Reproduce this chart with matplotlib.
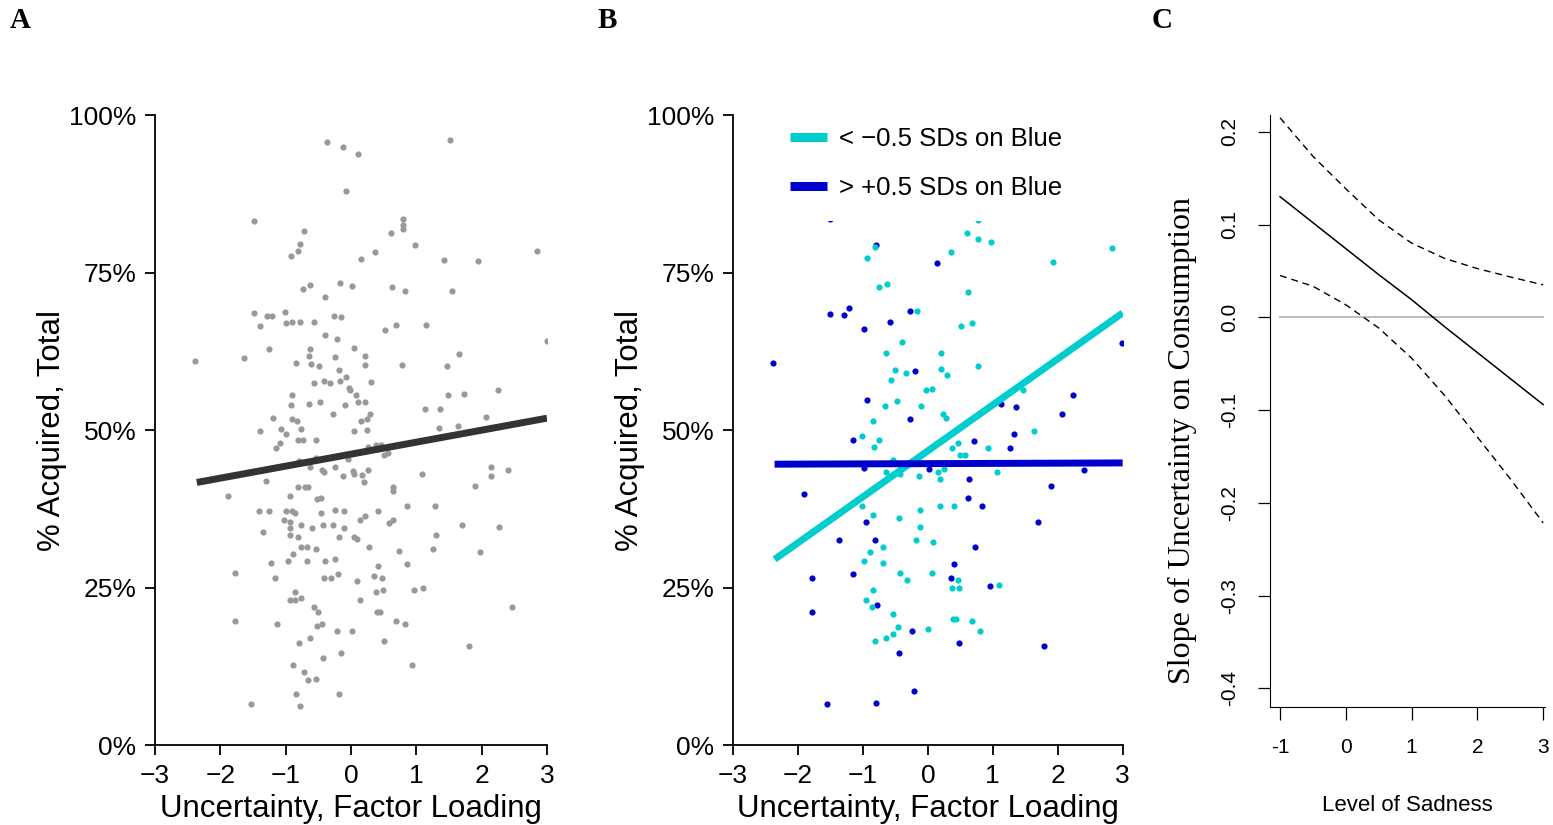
import numpy as np
import matplotlib
matplotlib.use('Agg')
import matplotlib.pyplot as plt

plt.rcParams['font.family'] = ['Liberation Sans', 'DejaVu Sans']

# Panel A: all participants (uncertainty factor loading vs % acquired)
unc_a = [-0.36, -0.12, 0.11, 1.51, -0.07, -1.49, -0.72, -0.78, -0.81, -0.92,
         0.80, 0.80, 0.79, 0.62, 0.98, 0.37, 0.15, 1.42, 1.94, 2.85,
         -0.74, -0.63, -0.17, 0.01, -0.39, 0.63, 0.83, 1.55, -1.49, -1.28,
         -1.21, -1.01, -1.39, -0.99, -0.90, -0.78, -0.57, -0.26, -0.16, -0.39,
         -0.21, 0.52, 0.69, 1.15, 3.0, -2.38, -1.64, -1.25, -0.63, -0.64,
         -0.84, -0.61, -0.49, -0.25, 0.05, 0.22, 0.22, -0.19, 0.78, 1.47,
         1.66, -0.56, -0.42, -0.32, -0.17, -0.08, -0.03, -0.02, 0.07, 0.30,
         -0.91, -0.92, -0.65, -0.47, -0.09, 0.10, 0.22, 1.13, 1.36, 1.48,
         1.73, 2.25, -1.19, -0.91, -0.83, -0.28, 0.29, 0.25, 0.15, 2.07,
         -1.39, -1.07, -0.99, -0.76, 0.05, 0.24, 1.34, 1.64,
         -1.09, -1.15, -0.81, -0.74, -0.54, -0.79, -0.53, -0.63, -0.45, -0.42,
         -0.24, -0.12, -0.05, 0.03, 0.04, 0.17, 0.26, 0.20, 0.26, 0.39,
         0.46, 0.50, 0.56, -1.30, -1.89, -0.81, -0.71, -0.66, -0.94, -0.52,
         -0.46, 0.64, 0.64, 1.08, 2.15, 2.15, 2.41, 1.90, -1.41, -1.25,
         -0.99, -0.90, -0.85, -0.46, -0.25, -0.11, 0.41, 0.85, 1.28, -1.02,
         -0.93, -0.94, -0.76, -0.59, -0.43, -0.28, -0.11, 0.14, 0.21, 0.58,
         0.65, -1.35, -0.94, -0.81, -0.18, 0.05, 0.09, 1.30, 1.70, 2.27,
         -0.76, -0.68, -0.54, 0.27, 0.73, 1.25, 1.98, -1.23, -0.97, -0.88,
         -0.68, -0.39, -0.24, 0.42, 0.85, -1.78, -1.16, -0.42, -0.31, -0.20,
         0.09, 0.36, 0.47, -0.85, -0.94, -0.85, -0.76, 0.14, 0.38, 0.49,
         0.96, 1.10, -0.56, -0.51, 0.40, 0.44, 2.47, -1.78, -1.13, -0.52,
         -0.45, 0.69, 0.82, -0.22, 0.01, -0.80, -0.63, 0.50, 1.81, -0.89,
         -0.43, -0.16, 0.94, -0.72, -0.66, -0.54, -0.84, -0.19, -1.53, -0.78]
acq_a = [95.7, 94.9, 93.8, 96.0, 88.0, 83.2, 81.6, 79.6, 78.4, 77.7,
         83.5, 82.6, 81.9, 81.3, 79.4, 78.3, 77.2, 77.0, 76.9, 78.4,
         72.4, 73.1, 73.4, 72.9, 71.2, 72.7, 72.1, 72.1, 68.6, 68.1,
         68.1, 68.8, 66.6, 67.0, 67.2, 67.2, 67.2, 68.1, 67.9, 65.1,
         64.5, 65.9, 66.7, 66.7, 64.2, 60.9, 61.5, 62.9, 62.9, 61.8,
         60.7, 60.5, 60.1, 61.6, 63.1, 61.8, 60.4, 59.6, 60.4, 60.2,
         62.1, 57.5, 57.8, 57.5, 57.8, 58.5, 56.7, 56.4, 55.5, 57.7,
         55.5, 54.0, 54.2, 54.4, 54.0, 54.4, 54.4, 53.4, 53.4, 55.6,
         55.8, 56.4, 52.0, 51.8, 51.5, 52.5, 52.6, 51.8, 51.5, 52.1,
         49.8, 50.2, 49.4, 50.2, 49.8, 50.1, 50.4, 50.6,
         48.0, 47.1, 48.5, 48.5, 48.5, 45.1, 45.6, 44.2, 43.7, 43.4,
         44.2, 42.8, 45.4, 43.5, 43.1, 42.9, 43.6, 41.8, 47.3, 47.6,
         47.7, 46.0, 46.3, 42.0, 39.6, 41.0, 41.0, 41.0, 39.5, 39.1,
         39.3, 41.0, 40.3, 43.1, 44.2, 42.8, 43.7, 41.2, 37.2, 37.2,
         37.1, 37.2, 36.8, 36.8, 37.4, 37.2, 37.1, 37.9, 37.9, 35.7,
         35.5, 34.4, 34.9, 34.5, 35.0, 35.0, 34.5, 35.8, 36.4, 35.3,
         35.8, 33.8, 33.3, 33.1, 33.0, 33.0, 32.8, 33.3, 34.9, 34.7,
         31.4, 31.4, 31.2, 31.5, 30.9, 31.2, 30.6, 29.0, 29.3, 30.3,
         29.2, 29.2, 29.6, 28.4, 28.7, 27.3, 26.6, 26.5, 26.5, 27.1,
         26.1, 26.9, 26.5, 24.4, 23.1, 23.1, 23.3, 23.0, 24.4, 24.6,
         24.6, 24.9, 22.0, 21.2, 21.1, 21.1, 22.0, 19.8, 19.3, 19.0,
         19.2, 19.8, 19.3, 18.1, 18.2, 16.3, 17.0, 16.5, 15.7, 12.7,
         13.8, 14.7, 12.7, 11.7, 10.3, 10.5, 8.2, 8.2, 6.5, 6.2]

# Panel B: split by Blue score
unc_low = [0.78, 0.61, 0.78, 0.97, -0.82, -0.94, 0.35, 1.93, 2.84, -0.75,
           -0.63, 0.62, -0.17, 0.51, 0.68, -0.40, -0.65, 0.21, -0.51, -0.34,
           0.21, 0.29, 0.77, -0.57, -0.03, 0.06, 1.47, -0.66, -0.48, -0.10,
           0.23, 0.28, -0.84, -1.01, 1.63,
           -0.75, -0.83, 0.46, 0.37, 0.93, 0.50, 0.57, -0.54, -0.64, -0.43,
           0.15, 0.25, -0.13, 0.18, 1.07, 0.19, 0.40, -1.01, -0.85, -0.44,
           -0.12, -0.12, -0.69, -0.19, 0.08, -0.89, -0.98, -0.69, -0.43, -0.32,
           0.07, 0.46, 0.37, 0.48, 1.09, -0.85, -0.95, -0.86, -0.53, -0.46,
           -0.53, -0.65, -0.81, 0.01, 0.39, 0.43, 0.68, 0.81]
acq_low = [83.4, 81.3, 80.3, 79.9, 79.1, 77.3, 78.3, 76.7, 78.9, 72.7,
           73.2, 71.9, 68.9, 66.6, 67.0, 64.0, 62.3, 62.3, 59.6, 59.0,
           59.7, 58.8, 60.1, 58.0, 56.4, 56.6, 56.4, 53.9, 54.7, 53.9,
           52.6, 52.0, 51.5, 49.1, 49.9,
           48.5, 47.4, 47.9, 47.1, 47.2, 46.1, 46.0, 45.3, 43.4, 43.1,
           43.4, 43.9, 42.8, 42.2, 43.3, 38.0, 38.0, 37.9, 36.6, 36.0,
           37.4, 34.7, 31.5, 32.6, 32.3, 30.6, 29.2, 29.0, 27.4, 26.3,
           27.3, 26.3, 25.0, 25.0, 25.5, 24.7, 23.0, 22.0, 20.9, 18.7,
           17.7, 17.0, 16.6, 18.5, 20.1, 20.0, 19.8, 18.1]
unc_high = [-1.50, -0.80, 0.14, -1.50, -1.29, -1.22, -0.27, -0.58, -0.99, -2.39,
            -0.20, 2.99, -0.93, 1.12, 1.35, 2.24, 2.06, -0.28, 1.33,
            -1.16, 0.71, 1.27, -0.98, 0.02, 0.63, 2.41, 1.89, -1.90, 0.62,
            0.84, -0.95, 1.69, -1.37, -0.82, 0.72, 0.41, 0.35, 0.95, -1.79,
            -1.16, -1.79, -0.78, -0.24, 0.48, -0.44, 1.79, -0.21, -1.55, -0.80]
acq_high = [83.5, 79.4, 76.5, 68.5, 68.3, 69.4, 68.9, 67.2, 66.1, 60.7,
            59.4, 63.9, 54.8, 54.1, 53.7, 55.5, 52.6, 51.7, 49.4,
            48.5, 48.3, 47.1, 44.0, 43.8, 42.2, 43.7, 41.2, 39.9, 39.3,
            37.9, 35.5, 35.5, 32.6, 32.6, 31.5, 28.8, 26.5, 25.2, 26.5,
            27.1, 21.1, 22.3, 18.1, 16.2, 14.6, 15.8, 8.6, 6.5, 6.7]

# fitted regression lines (end points)
fit_x = [-2.36, 3.0]
fit_all = [41.7, 51.9]
fit_low = [29.5, 68.6]
fit_high = [44.6, 44.8]

# Panel C: simple slopes
sadness = [-1, -0.5, 0, 0.5, 1, 1.5, 2, 2.5, 3]
slope_est = [0.130, 0.102, 0.074, 0.046, 0.019, -0.010, -0.038, -0.066, -0.094]
slope_hi = [0.215, 0.1735, 0.1385, 0.105, 0.080, 0.0635, 0.0525, 0.0435, 0.035]
slope_lo = [0.045, 0.0335, 0.0135, -0.0115, -0.044, -0.084, -0.129, -0.174, -0.2215]

pct_ticks = [0, 25, 50, 75, 100]
pct_labels = ['0%', '25%', '50%', '75%', '100%']

GREY = '#999999'
CYAN = '#00CDCD'
BLUE = '#0000CD'

fig = plt.figure(figsize=(15.53, 8.25), dpi=100)
axA = fig.add_axes([0.0998, 0.0966, 0.2524, 0.764])
axB = fig.add_axes([0.4720, 0.0966, 0.2509, 0.764])
axC = fig.add_axes([0.8178, 0.1430, 0.1771, 0.7176])


def style_ab(ax):
    for s in ['top', 'right']:
        ax.spines[s].set_visible(False)
    for s in ['left', 'bottom']:
        ax.spines[s].set_linewidth(1.3)
    ax.set_xlim(-3, 3)
    ax.set_ylim(0, 100)
    ax.set_xticks(range(-3, 4))
    ax.set_yticks(pct_ticks)
    ax.set_yticklabels(pct_labels)
    ax.tick_params(direction='out', length=7.5, width=1.3, pad=6, labelsize=19)
    ax.set_xlabel('Uncertainty, Factor Loading', fontsize=22.5, labelpad=4.5)
    ax.set_ylabel('% Acquired, Total', fontsize=22.5, labelpad=1.5)


# A
axA.scatter(unc_a, acq_a, s=20, color=GREY, linewidths=0, zorder=2)
axA.plot(fit_x, fit_all, color='#333333', lw=5, solid_capstyle='butt', zorder=3)
style_ab(axA)

# B
axB.scatter(unc_high, acq_high, s=20, color=BLUE, linewidths=0, zorder=2)
axB.scatter(unc_low, acq_low, s=20, color=CYAN, linewidths=0, zorder=2)
l1, = axB.plot(fit_x, fit_low, color=CYAN, lw=5, solid_capstyle='butt', zorder=3)
l2, = axB.plot(fit_x, fit_high, color=BLUE, lw=5, solid_capstyle='butt', zorder=3)
style_ab(axB)
leg = axB.legend([l1, l2], ['< \u22120.5 SDs on Blue', '> +0.5 SDs on Blue'],
                 loc='upper left', bbox_to_anchor=(0.0925, 1.014), borderaxespad=0,
                 fontsize=18.5, handlelength=1.45, handletextpad=0.45,
                 labelspacing=0.97, borderpad=0.82, frameon=True, fancybox=False,
                 framealpha=1)
leg.get_frame().set_edgecolor('none')
leg.get_frame().set_facecolor('white')
leg.set_zorder(5)
for h in leg.legend_handles:
    h.set_linewidth(6.5)

# C
axC.plot([sadness[0], sadness[-1]], [0, 0], color='#BDBDBD', lw=1.5)
axC.plot(sadness, slope_est, color='black', lw=1.1)
axC.plot(sadness, slope_hi, color='black', lw=1.0, dashes=(5, 3.5))
axC.plot(sadness, slope_lo, color='black', lw=1.0, dashes=(5, 3.5))
axC.set_xlim(-1.152, 3.03)
axC.set_ylim(-0.42, 0.218)
for s in ['top', 'right']:
    axC.spines[s].set_visible(False)
axC.set_xticks([-1, 0, 1, 2, 3])
axC.set_xticklabels(['-1', '0', '1', '2', '3'])
yt = [-0.4, -0.3, -0.2, -0.1, 0.0, 0.1, 0.2]
axC.set_yticks(yt)
axC.set_yticklabels(['-0.4', '-0.3', '-0.2', '-0.1', '0.0', '0.1', '0.2'],
                    rotation=90, va='center')
axC.tick_params(direction='out', length=9, width=0.9, pad=13, labelsize=15)
axC.set_xlabel('Level of Sadness', fontsize=16, labelpad=28)
fig.text(1182 / 1553, 1 - 440 / 825, 'Slope of Uncertainty on Consumption',
         rotation=90, ha='center', va='center', fontsize=23,
         family='Liberation Serif')

# panel letters
for xp, lab in [(10, 'A'), (598, 'B'), (1152, 'C')]:
    fig.text(xp / 1553, 1 - 21 / 825, lab, ha='left', va='center',
             fontsize=21, fontweight='bold', family='Liberation Serif')

fig.savefig('out.png', dpi=100)
